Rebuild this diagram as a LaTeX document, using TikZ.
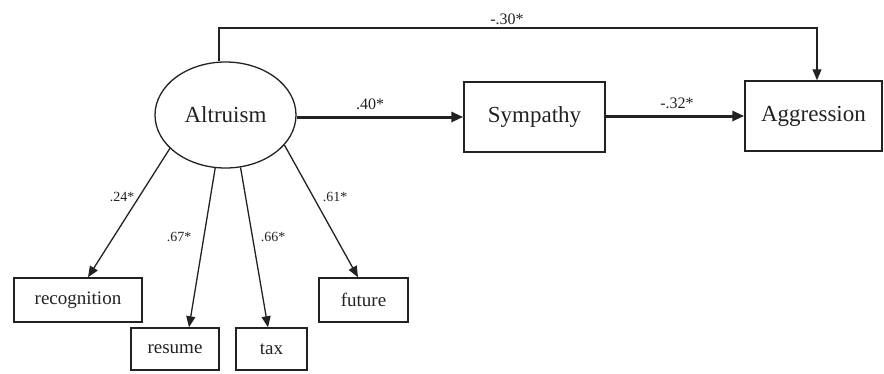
\documentclass[tikz,border=0pt]{standalone}
\usepackage{fontspec}
\setmainfont{Liberation Serif}
\usetikzlibrary{arrows.meta,shapes.geometric,calc}
\definecolor{ink}{HTML}{222222}
\tikzset{
  big/.style={font=\fontsize{23}{26}\selectfont},
  boxbig/.style={draw=ink,line width=1.5pt,rectangle,inner sep=0pt,big,text=ink},
  obs/.style={draw=ink,line width=1.5pt,rectangle,inner sep=0pt,font=\fontsize{19}{22}\selectfont,text=ink},
  lat/.style={draw=ink,line width=1.3pt,ellipse,inner sep=0pt,minimum width=141pt,minimum height=106pt,big,text=ink},
  thin/.style={draw=ink,line width=1.3pt,-{Triangle[length=11pt,width=9pt]}},
  thick/.style={draw=ink,line width=3pt,-{Triangle[length=12pt,width=10pt]}},
  toplab/.style={font=\fontsize{16}{18}\selectfont,text=ink,inner sep=0pt},
  smalllab/.style={font=\fontsize{14}{16}\selectfont,text=ink,inner sep=0pt}
}
\begin{document}
\begin{tikzpicture}[x=1pt,y=-1pt]
\useasboundingbox (0,0) rectangle (884,373);
\node[lat] (alt) at (225.5,115) {Altruism};
\node[boxbig,minimum width=141pt,minimum height=70pt] (sym) at (534.5,117) {Sympathy};
\node[boxbig,minimum width=137pt,minimum height=70pt] (agg) at (813.5,116) {Aggression};
\node[obs,minimum width=128pt,minimum height=44pt] (rec) at (78,300) {recognition};
\node[obs,minimum width=88pt,minimum height=42pt] (res) at (175,349) {resume};
\node[obs,minimum width=71pt,minimum height=42pt] (tax) at (271.5,349) {tax};
\node[obs,minimum width=89pt,minimum height=44pt] (fut) at (363.5,300) {future};

\coordinate (topL) at (219,28);
\coordinate (topR) at (817,28);

\draw[thick] (alt.east |- sym.west) -- (sym.west);
\draw[thick] (sym.east |- agg.west) -- (agg.west);
\draw[thin] (alt.north -| topL) -- (topL) -- (topR) -- (agg.north -| topR);

\draw[thin] (alt.211) -- ([xshift=10pt]rec.north);
\draw[thin] (alt.259.7) -- ([xshift=14pt]res.north);
\draw[thin] (alt.286.6) -- ([xshift=-3.5pt]tax.north);
\draw[thin] (alt.333) -- ([xshift=-5.5pt]fut.north);

\node[toplab] (l30) at (507,19) {-.30*};
\node[toplab] (l40) at (370,104) {.40*};
\node[toplab] (l32) at (677,103) {-.32*};
\node[smalllab] (l24) at (122,197) {.24*};
\node[smalllab] (l67) at (179,237) {.67*};
\node[smalllab] (l66) at (273,237) {.66*};
\node[smalllab] (l61) at (335,197) {.61*};
\end{tikzpicture}
\end{document}
